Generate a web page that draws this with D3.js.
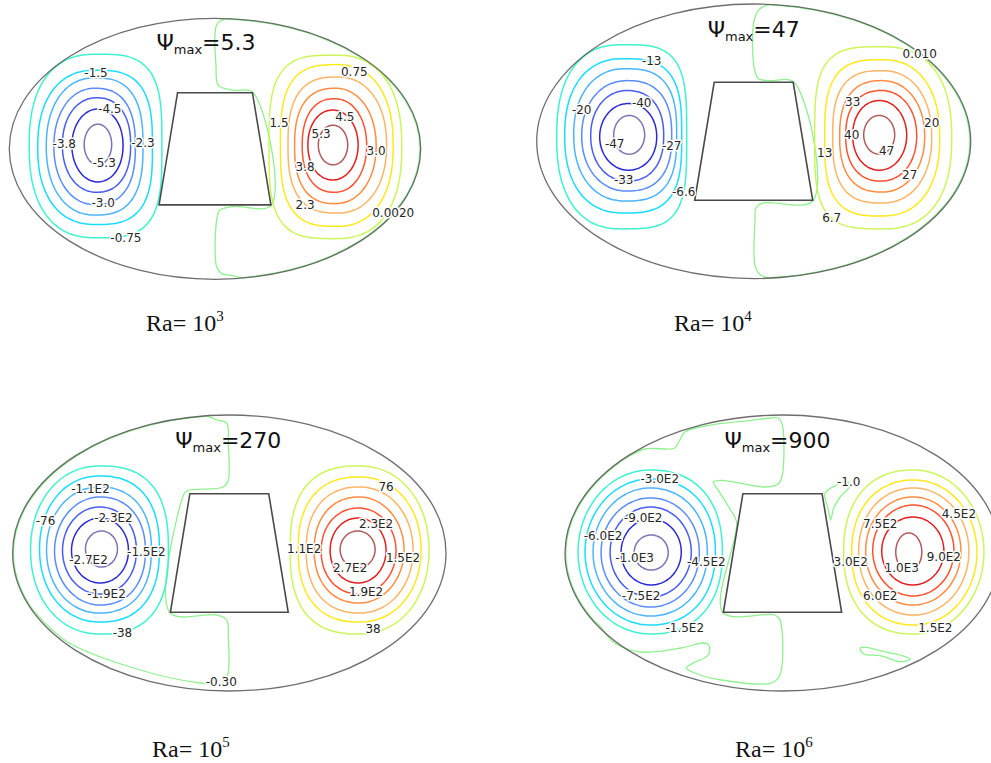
<!DOCTYPE html>
<html>
<head>
<meta charset="utf-8">
<script src="https://cdn.jsdelivr.net/npm/d3@7"></script>
<style>
  body { margin: 0; background: #fff; }
  svg { display: block; }
  .lbl { font-family: "DejaVu Sans", sans-serif; font-size: 12px; fill: #262626;
         paint-order: stroke; stroke: #fff; stroke-width: 3px; stroke-linejoin: round; }
  .title { font-family: "DejaVu Sans", sans-serif; font-size: 22px; fill: #111; }
  .cap { font-family: "Liberation Serif", "Times New Roman", serif; font-size: 24px; fill: #111; }
</style>
</head>
<body>
<div id="container"></div>
<script>
/* CONSTANTS AND GLOBALS */
const width = 991, height = 763;
// enclosure units: the outer ellipse has semi-axes A x B
const A = 217, B = 138;

// one case per panel
const raExp = [3, 4, 5, 6];
const psiMax = ["5.3", "47", "270", "900"];

// inner trapezoid body (same in every case)
const body = [[-39.5, 59.3], [39.5, 59.3], [59, -59.3], [-59, -59.3]];

// closed streamlines, outermost first: [left, right, top, bottom]
const p1Left = [[-196, -56, 100, -94], [-187, -66, 83, -80], [-178, -76, 75, -70], [-170, -84, 64, -59], [-161, -89, 54, -46], [-151, -97, 42, -35], [-138, -109, 26, -17]];
const p1Right = [[57, 197, 99, -95], [69, 188, 89, -82], [77, 181, 76, -68], [84, 170, 64, -58], [92, 160, 53, -46], [98, 151, 41, -33], [109, 140, 25, -17]];
const p2Left = [[-197, -67, 97, -88], [-189, -72, 83, -72], [-180, -77, 73, -60], [-172, -82, 61, -50], [-163, -90, 51, -40], [-154, -97, 38, -29], [-140, -109, 26, -13]];
const p2Right = [[61, 198, 95, -88], [71, 186, 82, -75], [79, 178, 71, -62], [86, 171, 61, -51], [92, 163, 51, -40], [99, 153, 41, -29], [110, 141, 26, -13]];
const p3Left = [[-199, -61, 87, -81], [-190, -70, 77, -69], [-183, -78, 66, -60], [-175, -84, 56, -52], [-167, -93, 46, -41], [-158, -101, 35, -30], [-144, -112, 22, -14]];
const p3Right = [[61, 200, 87, -81], [69, 192, 76, -69], [77, 184, 66, -60], [85, 175, 56, -50], [92, 167, 45, -41], [101, 157, 35, -30], [111, 146, 22, -15]];
const p4Left = [[-204, -60, 83, -81], [-197, -67, 74, -72], [-189, -75, 65, -63], [-181, -83, 55, -54], [-172, -91, 46, -44], [-161, -101, 34, -32], [-148, -114, 18, -17]];
const p4Right = [[61, 201, 83, -81], [69, 194, 73, -72], [76, 186, 65, -62], [83, 178, 56, -52], [90, 171, 48, -43], [99, 161, 36, -32], [113, 139, 20, -18]];

// how boxy each ring is, [wall side, body side] (2 = ellipse)
const shape1 = [[2.4, 3.4], [2.3, 3.0], [2.2, 2.7], [2.1, 2.5], [2.1, 2.3], [2.0, 2.1], [2.0, 2.0]];
const shape2 = [[2.4, 3.6], [2.3, 3.1], [2.2, 2.8], [2.1, 2.5], [2.1, 2.3], [2.0, 2.1], [2.0, 2.0]];
const shape3 = [[2.1, 2.6], [2.1, 2.4], [2.05, 2.3], [2.0, 2.2], [2.0, 2.1], [2.0, 2.05], [2.0, 2.0]];
const shape4 = [[2.0, 2.3], [2.0, 2.2], [2.0, 2.1], [2.0, 2.05], [2.0, 2.0], [2.0, 2.0], [2.0, 2.0]];

// near-zero streamline, "W+"/"W-" = runs along the wall (angle up / down)
const zero1 = [[1.8, 131], [1.1, 87], [3.5, 67], [19, 62], [40, 59.5], [59.5, -59.5], [19, -61], [5, -65], [1.8, -75], [1.8, -125], [7, -132], [19, -134], "W+"];
const zero2 = [[6, 133], [0.3, 121], [0.3, 75], [4.6, 63], [16, 61], [40, 59.5], [59.5, -59.5], [9.6, -62], [2.3, -67], [1.3, -79], [1.3, -125], [6.3, -134], "W+"];
const zero3 = [[-12.6, 133], [-2.6, 130], [-1, 108], [-1, 73], [-6, 66], [-42.6, 62], [-46.6, 56], [-59.5, -59.5], [-12.6, -62], [-2.6, -67], [-1, -85], [-1, -119], [-6, -130], [-29, -130], [-96, -115], [-162, -89], [-195, -59], "W-"];
const zero4a = [[-4.2, 135], [-0.2, 128], [-0.2, 78], [-4.2, 69], [-17.5, 66], [-61, 72.7], [-69, 71], [-64, 62.7], [-52.5, 44], [-45.8, 31], [-59.5, -59.5], [-7.5, -62], [-2.5, -67], [-2.5, -122], [-11, -130], [-61, -127], [-87.5, -120], [-96, -115], [-89, -110], [-74, -102], [-73.5, -92], [-79, -90], [-101, -95], [-141, -99], [-167.5, -90], [-183, -72], "W-", [-160.8, 92], [-137.5, 104], [-107.5, 105], [-102.5, 113], [-97.5, 121], [-77.5, 127], [-31, 132.7], [-11, 135]];
const zero4b = [[42.5, 59.7], [54, 68], [64, 71.3], [67, 67], [57.5, 56], [51, 44.7], [48, 33], [45.8, 43]];
const zero4c = [[77.5, -95.3], [81, -101], [97.5, -102.7], [117.5, -108.7], [127.5, -106], [117.5, -102], [101, -98.7], [84, -94.3]];

// contour labels: [text, x, y]
const lab1 = [["-1.5", -125.5, 80], ["-4.5", -111, 42], ["-3.8", -159, 5], ["-2.3", -76, 6], ["-5.3", -117, -15], ["-3.0", -118, -57], ["-0.75", -94, -94],
  ["0.75", 147, 81], ["1.5", 67.5, 27], ["4.5", 137, 34], ["5.3", 112, 16], ["3.0", 170, -2], ["3.8", 95, -19], ["2.3", 95, -59], ["0.0020", 188, -68]];
const lab2 = [["-13", -102, 81], ["-20", -172, 31], ["-40", -112, 38], ["-47", -139, -3], ["-27", -82, -5], ["-33", -130, -39], ["-6.6", -70, -51],
  ["0.010", 166, 88], ["33", 99, 40], ["20", 178, 18], ["40", 98, 6], ["13", 71, -12], ["47", 133, -10], ["27", 156, -34], ["6.7", 78, -77]];
const lab3 = [["-1.1E2", -139, 64], ["-76", -184, 32], ["-2.3E2", -116, 35], ["-1.5E2", -83, 1], ["-2.7E2", -141, -7], ["-1.9E2", -123, -41], ["-38", -107, -80], ["-0.30", -8, -129],
  ["76", 157, 66], ["2.3E2", 147, 29], ["1.1E2", 75, 4], ["1.5E2", 174, -5], ["2.7E2", 121, -15], ["1.9E2", 137, -39], ["38", 144, -76]];
const lab4 = [["-3.0E2", -122.5, 74], ["-9.0E2", -139, 35], ["-6.0E2", -179, 17], ["-1.0E3", -147.5, -5], ["-4.5E2", -76, -9], ["-7.5E2", -141, -43], ["-1.5E2", -97.5, -75],
  ["-1.0", 66, 71], ["7.5E2", 97.5, 29], ["4.5E2", 176, 39], ["3.0E2", 68, -9], ["9.0E2", 161, -4], ["1.0E3", 119, -15], ["6.0E2", 97.5, -43], ["1.5E2", 152.5, -75]];

// colours, outer ring -> inner ring
const negColors = ["#3ff2cf", "#19dcff", "#4cb4ff", "#5a8cff", "#4a5cf2", "#2a2ad6", "#7e74b4"];
const posColors = ["#cdf55a", "#ffe81c", "#ffb465", "#ff8c42", "#ff5232", "#e41e1e", "#b05c5c"];
const zeroColor = "#8ff08f";

// where each panel sits: ellipse centre and radii in px
const frames = [[215, 148.8, 205.7, 130.5], [753.7, 141.3, 217, 137.3], [229.3, 553, 216.7, 138], [782.5, 553, 217.5, 138]];
const titleDx = [-9, 0, -1, -5];
const captionPos = [[146, 331], [674, 331], [152, 757], [735, 757]];

const cases = [
  { left: p1Left, right: p1Right, shape: shape1, zero: [zero1], labels: lab1 },
  { left: p2Left, right: p2Right, shape: shape2, zero: [zero2], labels: lab2 },
  { left: p3Left, right: p3Right, shape: shape3, zero: [zero3], labels: lab3 },
  { left: p4Left, right: p4Right, shape: shape4, zero: [zero4a, zero4b, zero4c], labels: lab4 }
];

const svg = d3.select("#container").append("svg")
  .attr("width", width).attr("height", height);
svg.append("rect").attr("width", width).attr("height", height).attr("fill", "#fff");

// superellipse ring from its extents; the side facing the body can be boxier
function ringPoints(ext, n, bodyOnRight) {
  const [l, r, t, b] = ext;
  const xc = (l + r) / 2, yc = (t + b) / 2, hw = (r - l) / 2, hh = (t - b) / 2;
  return d3.range(0, 360, 4).map(deg => {
    const a = deg * Math.PI / 180, c = Math.cos(a), s = Math.sin(a);
    const e = ((c > 0) === bodyOnRight) ? n[1] : n[0];
    return [xc + hw * Math.sign(c) * Math.pow(Math.abs(c), 2 / e),
            yc + hh * Math.sign(s) * Math.pow(Math.abs(s), 2 / e)];
  });
}

// expand "W+"/"W-" markers into points along the wall
function zeroPoints(piece) {
  const out = [];
  piece.forEach((p, i) => {
    if (typeof p !== "string") { out.push(p); return; }
    const prev = piece[i - 1];
    const next = typeof piece[i + 1] === "object" ? piece[i + 1] : piece[0];
    const t0 = Math.atan2(prev[1] / B, prev[0] / A);
    let t1 = Math.atan2(next[1] / B, next[0] / A);
    if (p === "W+" && t1 < t0) t1 += 2 * Math.PI;
    if (p === "W-" && t1 > t0) t1 -= 2 * Math.PI;
    const steps = Math.ceil(Math.abs(t1 - t0) / 0.04);
    for (let k = 1; k < steps; k++) {
      const t = t0 + (t1 - t0) * k / steps;
      out.push([A * 0.996 * Math.cos(t), B * 0.996 * Math.sin(t)]);
    }
  });
  return out;
}

cases.forEach((c, i) => {
  const [cx, cy, rx, ry] = frames[i];
  const xScale = d3.scaleLinear().domain([-A, A]).range([cx - rx, cx + rx]);
  const yScale = d3.scaleLinear().domain([-B, B]).range([cy + ry, cy - ry]);
  const line = d3.line().x(d => xScale(d[0])).y(d => yScale(d[1]))
    .curve(d3.curveCatmullRomClosed.alpha(0.5));

  const g = svg.append("g").attr("class", "panel");

  // near-zero streamline
  g.selectAll(".zero")
    .data(c.zero)
    .join("path")
    .attr("class", "zero")
    .attr("fill", "none")
    .attr("stroke", zeroColor)
    .attr("stroke-width", 1.3)
    .attr("d", d => line(zeroPoints(d)));

  // vortex rings
  [[c.left, negColors, true], [c.right, posColors, false]].forEach(([rings, colors, bodyOnRight]) => {
    g.append("g").selectAll("path")
      .data(rings)
      .join("path")
      .attr("fill", "none")
      .attr("stroke", (d, k) => colors[k])
      .attr("stroke-width", 1.5)
      .attr("d", (d, k) => line(ringPoints(d, c.shape[k], bodyOnRight)));
  });

  // inner body
  g.append("path")
    .attr("d", d3.line().x(d => xScale(d[0])).y(d => yScale(d[1])).curve(d3.curveLinearClosed)(body))
    .attr("fill", "none")
    .attr("stroke", "#4a4a4a")
    .attr("stroke-width", 1.6);

  // enclosure
  g.append("ellipse")
    .attr("cx", xScale(0)).attr("cy", yScale(0))
    .attr("rx", xScale(A) - xScale(0)).attr("ry", yScale(0) - yScale(B))
    .attr("fill", "none")
    .attr("stroke", "#555")
    .attr("stroke-opacity", 0.85)
    .attr("stroke-width", 1.3);

  // contour labels
  g.selectAll(".lbl")
    .data(c.labels)
    .join("text")
    .attr("class", "lbl")
    .attr("x", d => xScale(d[1]))
    .attr("y", d => yScale(d[2]))
    .attr("text-anchor", "middle")
    .attr("dominant-baseline", "central")
    .text(d => d[0]);

  // title
  const title = g.append("text")
    .attr("class", "title")
    .attr("x", xScale(0) + titleDx[i])
    .attr("y", yScale(105))
    .attr("text-anchor", "middle");
  title.append("tspan").text("\u03a8");
  title.append("tspan").attr("font-size", "13px").attr("dy", 4).text("max");
  title.append("tspan").attr("dy", -4).text("=" + psiMax[i]);

  // caption
  const cap = svg.append("text")
    .attr("class", "cap")
    .attr("x", captionPos[i][0])
    .attr("y", captionPos[i][1]);
  cap.append("tspan").text("Ra= 10");
  cap.append("tspan").attr("font-size", "15px").attr("dy", -10).text(raExp[i]);
});
</script>
</body>
</html>
